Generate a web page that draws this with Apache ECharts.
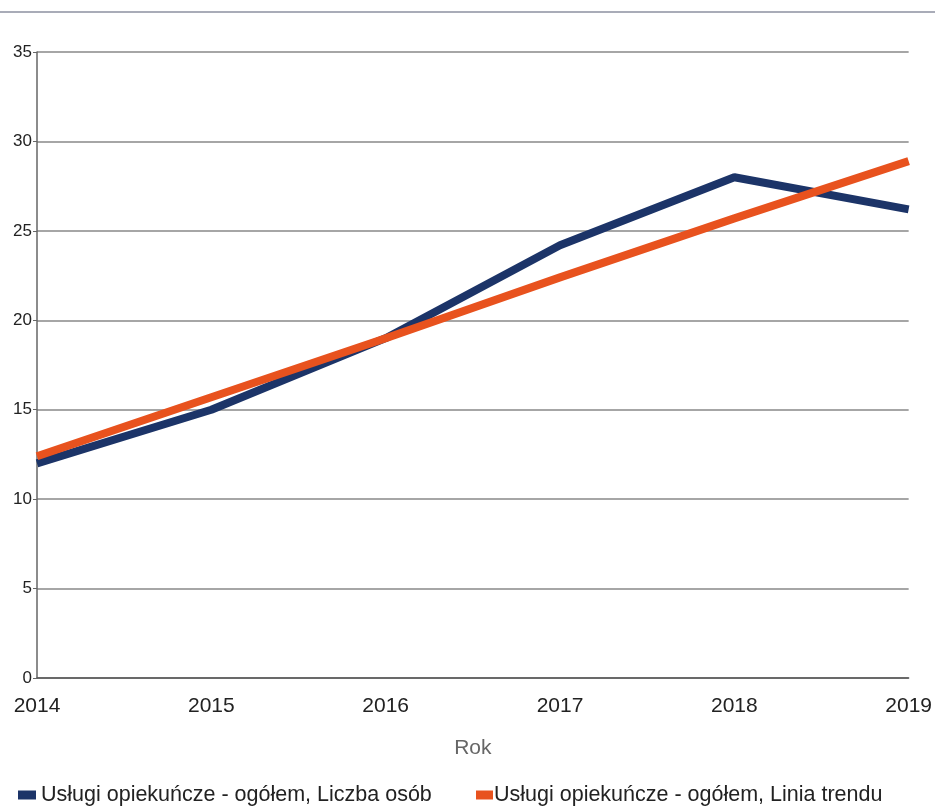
<!DOCTYPE html>
<html><head><meta charset="utf-8">
<script src="https://cdn.jsdelivr.net/npm/echarts@6/dist/echarts.min.js"></script>
<style>html,body{margin:0;padding:0;background:#fff}#c{width:935px;height:806px}</style>
</head><body><div id="c"></div>
<script>
var years = ['2014','2015','2016','2017','2018','2019'];
var liczbaOsob = [12, 15, 19, 24.2, 28, 26.2];
var liniaTrendu = [12.4, 15.7, 19.0, 22.4, 25.7, 28.9];
var seriesNames = ['Usługi opiekuńcze - ogółem, Liczba osób', 'Usługi opiekuńcze - ogółem, Linia trendu'];
var chart = echarts.init(document.getElementById('c'));
var font = 'Liberation Sans, Arial, sans-serif';
chart.setOption({
  animation: false,
  textStyle: {fontFamily: font},
  graphic: [{type:'line', shape:{x1:0,y1:12,x2:935,y2:12}, style:{stroke:'#a9acb8', lineWidth:2}}],
  grid: {left: 37, right: 24, top: 52, bottom: 128},
  legend: [
    {top: 779, left: 13, itemWidth: 18, itemHeight: 9, icon: 'rect',
     textStyle: {fontSize: 21.5, color: '#222', padding: [0,0,0,0]}, data: [seriesNames[0]]},
    {top: 779, left: 471, itemWidth: 17, itemHeight: 9, icon: 'rect',
     textStyle: {fontSize: 21.5, color: '#222', padding: [0,0,0,-4]}, data: [seriesNames[1]]}
  ],
  xAxis: {
    type: 'category', data: years, boundaryGap: false,
    name: 'Rok', nameLocation: 'middle', nameGap: 60,
    nameTextStyle: {fontSize: 21, color: '#666'},
    axisLine: {lineStyle: {color: '#555', width: 1.5}},
    axisTick: {show: false},
    axisLabel: {fontSize: 21, color: '#222', margin: 18}
  },
  yAxis: {
    type: 'value', min: 0, max: 35, interval: 5,
    axisLine: {show: true, lineStyle: {color: '#666', width: 1.5}},
    axisTick: {show: true, length: 4, lineStyle: {color: '#666'}},
    splitLine: {lineStyle: {color: '#888', width: 1.5}},
    axisLabel: {fontSize: 17, color: '#222', margin: 5}
  },
  series: [
    {name: seriesNames[0], type: 'line', data: liczbaOsob, symbol: 'none',
     lineStyle: {color: '#1c3468', width: 8}, itemStyle: {color: '#1c3468'}},
    {name: seriesNames[1], type: 'line', data: liniaTrendu, symbol: 'none',
     lineStyle: {color: '#e8521e', width: 8}, itemStyle: {color: '#e8521e'}}
  ]
});
</script></body></html>
